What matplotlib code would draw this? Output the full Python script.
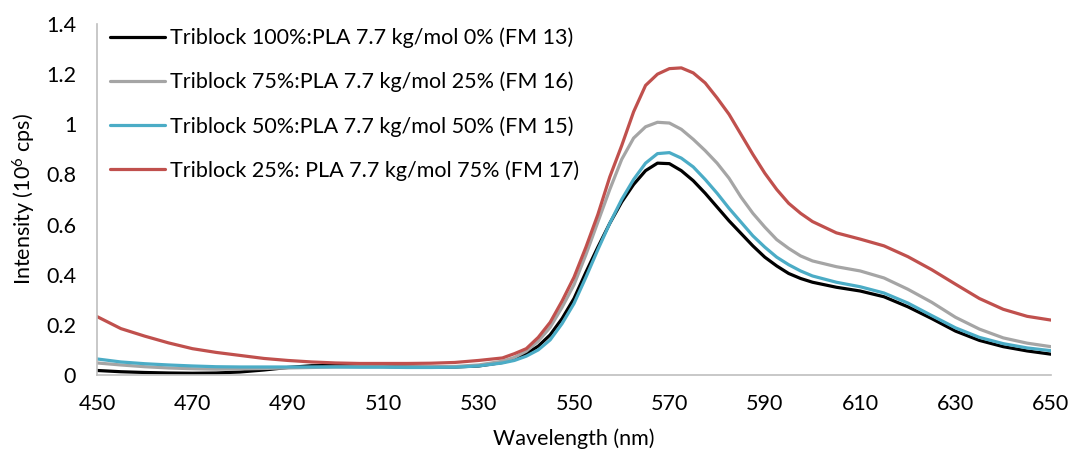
import matplotlib.pyplot as plt
import numpy as np

plt.rcParams['font.family'] = ['Lato', 'DejaVu Sans']
plt.rcParams['mathtext.fontset'] = 'custom'
plt.rcParams['mathtext.rm'] = 'Lato'
plt.rcParams['mathtext.it'] = 'Lato'

# wavelength grid: 5 nm steps, 2.5 nm through the peak
wavelength = (list(range(450, 536, 5))
              + [537.5, 540, 542.5, 545, 547.5, 550, 552.5, 555, 557.5, 560, 562.5, 565, 567.5,
                 570, 572.5, 575, 577.5, 580, 582.5, 585, 587.5, 590, 592.5, 595, 597.5, 600]
              + list(range(605, 651, 5)))

fm13 = [0.018, 0.013, 0.010, 0.008, 0.007, 0.008, 0.012, 0.020, 0.030, 0.037,
        0.038, 0.036, 0.034, 0.032, 0.031, 0.032, 0.036, 0.050,
        0.063, 0.085, 0.115, 0.160, 0.225, 0.305, 0.410, 0.510, 0.605, 0.690, 0.760, 0.815, 0.845,
        0.843, 0.815, 0.775, 0.725, 0.670, 0.615, 0.565, 0.515, 0.470, 0.435, 0.405, 0.385, 0.370,
        0.350, 0.335, 0.312, 0.272, 0.225, 0.175, 0.138, 0.113, 0.096, 0.083]
fm16 = [0.048, 0.040, 0.033, 0.028, 0.025, 0.023, 0.024, 0.026, 0.028, 0.030,
        0.032, 0.033, 0.033, 0.032, 0.032, 0.034, 0.040, 0.055,
        0.070, 0.095, 0.135, 0.190, 0.270, 0.360, 0.480, 0.610, 0.740, 0.860, 0.945, 0.990, 1.008,
        1.005, 0.980, 0.940, 0.895, 0.845, 0.785, 0.710, 0.645, 0.590, 0.540, 0.505, 0.475, 0.455,
        0.432, 0.415, 0.387, 0.342, 0.290, 0.230, 0.183, 0.148, 0.127, 0.113]
fm15 = [0.064, 0.052, 0.045, 0.040, 0.036, 0.033, 0.032, 0.032, 0.032, 0.032,
        0.032, 0.031, 0.031, 0.030, 0.030, 0.031, 0.036, 0.048,
        0.058, 0.075, 0.100, 0.140, 0.205, 0.285, 0.390, 0.500, 0.605, 0.700, 0.780, 0.845, 0.883,
        0.887, 0.865, 0.830, 0.780, 0.725, 0.665, 0.610, 0.555, 0.510, 0.470, 0.440, 0.415, 0.395,
        0.370, 0.352, 0.327, 0.287, 0.237, 0.188, 0.150, 0.125, 0.108, 0.097]
fm17 = [0.233, 0.185, 0.155, 0.128, 0.105, 0.090, 0.078, 0.066, 0.058, 0.052,
        0.048, 0.046, 0.046, 0.046, 0.047, 0.050, 0.058, 0.068,
        0.085, 0.105, 0.150, 0.210, 0.295, 0.390, 0.510, 0.640, 0.790, 0.915, 1.050, 1.155, 1.200,
        1.222, 1.225, 1.205, 1.165, 1.105, 1.040, 0.960, 0.880, 0.805, 0.740, 0.685, 0.645, 0.612,
        0.567, 0.542, 0.515, 0.472, 0.420, 0.362, 0.305, 0.262, 0.234, 0.219]

labels = ['Triblock 100%:PLA 7.7 kg/mol 0% (FM 13)',
          'Triblock 75%:PLA 7.7 kg/mol 25% (FM 16)',
          'Triblock 50%:PLA 7.7 kg/mol 50% (FM 15)',
          'Triblock 25%: PLA 7.7 kg/mol 75% (FM 17)']
colors = ['#000000', '#a5a5a5', '#4bacc6', '#c0504d']

fig = plt.figure(figsize=(10.71, 4.53), dpi=100)
ax = fig.add_axes([0.0906, 0.1722, 0.8907, 0.7748])

for series, lab, col in zip([fm13, fm16, fm15, fm17], labels, colors):
    ax.plot(wavelength, series, color=col, lw=2.3, label=lab,
            solid_capstyle='round', solid_joinstyle='round')

ax.set_xlim(450, 650)
ax.set_ylim(0, 1.4)
ax.set_xticks(range(450, 651, 20))
ax.set_yticks(np.arange(0, 1.41, 0.2))
ax.set_yticklabels(['0', '0.2', '0.4', '0.6', '0.8', '1', '1.2', '1.4'])

for s in ['top', 'right']:
    ax.spines[s].set_visible(False)
for s in ['left', 'bottom']:
    ax.spines[s].set_color('#bfbfbf')
    ax.spines[s].set_linewidth(1.2)
ax.tick_params(length=0, labelsize=15.5, colors='#000000')
ax.tick_params(axis='y', pad=15)
ax.tick_params(axis='x', pad=14)

ax.set_xlabel('Wavelength (nm)', fontsize=15.5, labelpad=10)
ax.set_ylabel('Intensity (10$^6$ cps)', fontsize=15.5, labelpad=6)

ax.legend(loc='upper left', bbox_to_anchor=(0.0, 1.027), frameon=False, fontsize=15.5,
          handlelength=2.55, handletextpad=0.25, labelspacing=1.1, borderaxespad=0.2)

fig.savefig('out.png', dpi=100)
